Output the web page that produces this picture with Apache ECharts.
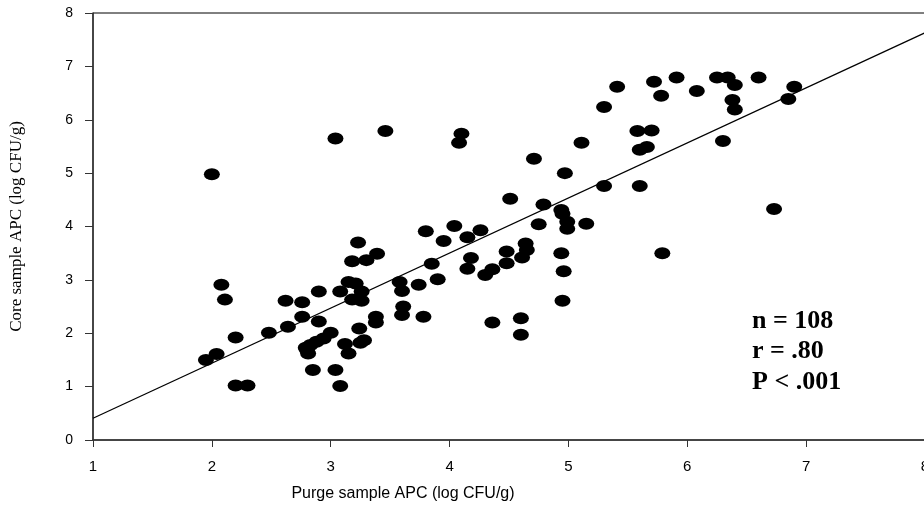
<!DOCTYPE html>
<html><head><meta charset="utf-8">
<script src="https://cdn.jsdelivr.net/npm/echarts@6/dist/echarts.min.js"></script>
<style>html,body{margin:0;padding:0;background:#fff;overflow:hidden}#c{width:924px;height:506px}</style>
</head><body><div id="c"></div>
<script>
// Purge sample APC (x) and core sample APC (y), log CFU/g
const purgeX = [1.95,2.00,2.04,2.08,2.11,2.20,2.20,2.30,2.48,2.62,2.64,2.76,2.76,2.80,2.81,2.83,2.85,2.88,2.90,2.90,
  2.94,3.00,3.04,3.04,3.08,3.08,3.12,3.15,3.15,3.21,3.18,3.18,3.23,3.24,3.25,3.28,3.26,3.26,3.30,3.38,
  3.38,3.39,3.46,3.58,3.60,3.61,3.60,3.74,3.78,3.80,3.85,3.90,3.95,4.04,4.08,4.10,4.15,4.15,4.18,4.26,
  4.30,4.36,4.36,4.48,4.48,4.51,4.60,4.60,4.61,4.64,4.65,4.71,4.75,4.79,4.94,4.96,4.95,4.97,4.94,4.95,
  4.99,4.99,5.15,5.11,5.30,5.30,5.41,5.58,5.60,5.66,5.60,5.70,5.72,5.78,5.79,5.91,6.08,6.25,6.34,6.38,
  6.40,6.40,6.30,6.60,6.73,6.85,6.90,2.79];
const coreY = [1.50,4.98,1.61,2.91,2.63,1.92,1.02,1.02,2.01,2.61,2.12,2.58,2.31,1.69,1.62,1.78,1.31,1.84,2.78,2.22,
  1.90,2.01,1.31,5.65,1.01,2.78,1.80,1.62,2.96,2.93,2.63,3.35,3.70,2.09,1.82,1.87,2.61,2.78,3.37,2.31,
  2.20,3.49,5.79,2.96,2.79,2.50,2.34,2.91,2.31,3.91,3.30,3.01,3.73,4.01,5.57,5.74,3.80,3.21,3.41,3.93,
  3.09,3.20,2.20,3.53,3.31,4.52,2.28,1.97,3.42,3.68,3.56,5.27,4.04,4.41,3.50,3.16,2.61,5.00,4.31,4.24,
  4.09,3.96,4.05,5.57,6.24,4.76,6.62,5.79,5.44,5.49,4.76,5.80,6.71,6.45,3.50,6.79,6.54,6.79,6.79,6.37,
  6.65,6.19,5.60,6.79,4.33,6.39,6.62,1.73];
const xTicks = [1,2,3,4,5,6,7,8];
const yTicks = [0,1,2,3,4,5,6,7,8];
const statLines = ['n = 108','r = .80','P < .001'];
const xTitle = 'Purge sample APC (log CFU/g)';
const yTitle = 'Core sample APC (log CFU/g)';

const pts = purgeX.map((x,i)=>[x, coreY[i]]);
// least-squares regression line from the data
const n = pts.length;
const mx = purgeX.reduce((a,b)=>a+b,0)/n, my = coreY.reduce((a,b)=>a+b,0)/n;
let sxy=0, sxx=0;
for (let i=0;i<n;i++){ sxy += (purgeX[i]-mx)*(coreY[i]-my); sxx += (purgeX[i]-mx)**2; }
const slope = sxy/sxx, icpt = my - slope*mx;
const xMin = xTicks[0], xMax = xTicks[xTicks.length-1];
const yMin = yTicks[0], yMax = yTicks[yTicks.length-1];
const fit = [[xMin, icpt+slope*xMin],[xMax, icpt+slope*xMax]];

const chart = echarts.init(document.getElementById('c'), null, {renderer:'canvas', width:924, height:506});
chart.setOption({
  animation:false,
  backgroundColor:'#fff',
  grid:{left:93, width:832, top:13, height:427, show:true, borderColor:'#000', borderWidth:1,
        containLabel:false, outerBoundsMode:'none'},
  xAxis:{type:'value', min:xMin, max:xMax, interval:1,
    axisLine:{lineStyle:{color:'#333', width:1.5}},
    axisTick:{inside:false, length:7, lineStyle:{color:'#333'}},
    axisLabel:{color:'#000', fontFamily:'Liberation Sans, Arial, sans-serif', fontSize:15, margin:19},
    splitLine:{show:false}},
  yAxis:{type:'value', min:yMin, max:yMax, interval:1,
    name:yTitle, nameLocation:'middle', nameGap:68,
    nameTextStyle:{fontFamily:'Liberation Serif, Times New Roman, serif', fontSize:17, color:'#000'},
    axisLine:{lineStyle:{color:'#333', width:1.5}},
    axisTick:{inside:false, length:8, lineStyle:{color:'#333'}},
    axisLabel:{color:'#000', fontFamily:'Liberation Sans, Arial, sans-serif', fontSize:14, margin:20},
    splitLine:{show:false}},
  series:[
    {type:'line', data:fit, symbol:'none', lineStyle:{color:'#000', width:1.2}, silent:true, clip:true, z:1},
    {type:'scatter', data:pts, symbol:'circle', symbolSize:[16,12], itemStyle:{color:'#000', opacity:1}, z:2}
  ],
  graphic: statLines.map((t,i)=>({type:'text', x:752, y:321+i*30.5,
    style:{text:t, font:'bold 26px "Liberation Serif", "Times New Roman", serif', fill:'#000', align:'left', verticalAlign:'middle'}}))
    .concat([{type:'text', x:403, y:494,
      style:{text:xTitle, font:'16px "Liberation Sans", Arial, sans-serif', fill:'#000', align:'center', verticalAlign:'middle'}}])
});
</script></body></html>
